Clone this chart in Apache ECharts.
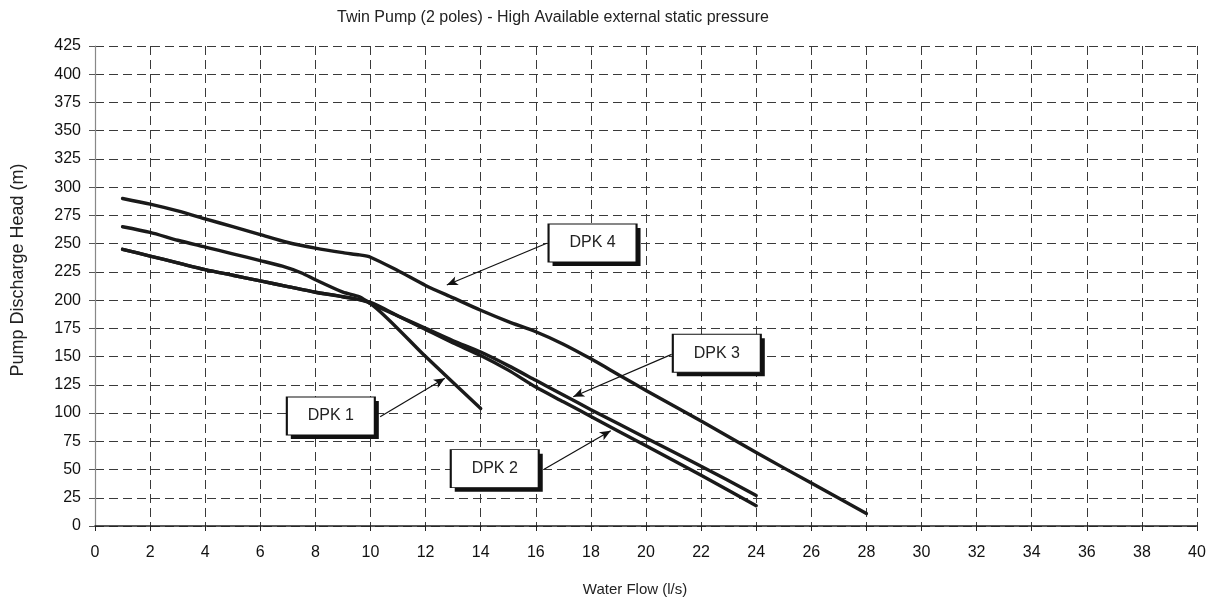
<!DOCTYPE html>
<html>
<head>
<meta charset="utf-8">
<script src="https://cdn.jsdelivr.net/npm/echarts@6/dist/echarts.min.js"></script>
<style>
html,body{margin:0;padding:0;background:#fff;}
#chart{width:1213px;height:605px;}
</style>
</head>
<body>
<div id="chart"></div>
<script>
// ---- Data ----
const seriesNames = ['DPK 1', 'DPK 2', 'DPK 3', 'DPK 4'];

const dpk1 = [[1,245],[2,239],[3,233],[4,227],[5,222],[6,217],[7,212],[8,207],[9,203],[10,197],[12,150],[14,104]];
const dpk2 = [[1,245],[2,239],[3,233],[4,227],[5,222],[6,217],[7,212],[8,207],[9,203],[10,198],[11,186],[12,174],[13,162],[14,151],[15,138],[16,123],[17,110],[18,97],[20,71],[22,45],[24,18]];
const dpk3 = [[1,265],[2,260],[3,253],[4,247],[5,241],[6,235],[6.8,230],[7.5,224],[8,218],[9,207],[9.6,203],[10,197],[11,186],[12,175],[13,164],[14,154],[15,142],[16,129],[17,116],[18,103],[20,78],[22,53],[24,27]];
const dpk4 = [[1,290],[2,285],[3,279],[4,272],[5,265],[6,258],[7,251],[8,246],[9,242],[9.6,240],[10,238],[11,226],[12,213],[13,202],[14,191],[15,181],[16,172],[17,161],[18,148],[19,134],[20,120],[22,93],[24,65],[26,38],[28,11]];

const xTicks = [0,2,4,6,8,10,12,14,16,18,20,22,24,26,28,30,32,34,36,38,40];
const yTicks = [0,25,50,75,100,125,150,175,200,225,250,275,300,325,350,375,400,425];

// Callout annotations (data coordinates): box centre, arrow start, arrow tip
const calloutBox   = [[8.56,97.4],[14.51,50.8],[22.57,152.9],[18.06,250.5]];
const calloutFrom  = [[10.35,96.8],[16.3,50.2],[20.93,152],[16.4,250.3]];
const calloutTo    = [[12.7,130.8],[18.72,84.4],[17.36,114.5],[12.77,213.4]];

const titleText = 'Twin Pump (2 poles) - High Available external static pressure';
const yName = 'Pump Discharge Head (m)';
const xName = 'Water Flow (l/s)';

const allData = [dpk1, dpk2, dpk3, dpk4];

const chart = echarts.init(document.getElementById('chart'), null, {renderer:'canvas'});
const lineColor = '#1a1a1a';
const gridColor = '#3a3a3a';
const baseFont = '"Liberation Sans", Arial, sans-serif';
const narrowFont = '"Liberation Sans Narrow", "Liberation Sans", Arial, sans-serif';

const series = allData.map((d, i) => ({
  name: seriesNames[i],
  type: 'line',
  data: d,
  showSymbol: false,
  symbol: 'none',
  smooth: 0.25,
  z: 3,
  lineStyle: {color: lineColor, width: 3.4, cap: 'round', join: 'round'},
  markPoint: {
    symbol: 'rect',
    symbolSize: [88, 38],
    z: 5,
    silent: true,
    data: [
      {coord: calloutBox[i], value: '', symbolOffset: [4, 4],
       itemStyle: {color: '#111', borderWidth: 0},
       label: {show: false}},
      {coord: calloutBox[i], value: seriesNames[i],
       itemStyle: {color: '#fff', borderColor: '#111', borderWidth: 1.4},
       label: {show: true, position: 'inside', formatter: seriesNames[i],
         color: '#222', fontSize: 16, fontFamily: narrowFont}}
    ]
  },
  markLine: {
    silent: true,
    symbol: ['none', 'arrow'],
    symbolSize: [7, 11],
    z: 4,
    label: {show: false},
    lineStyle: {color: '#111', width: 1.2, type: 'solid'},
    data: [[{coord: calloutFrom[i]}, {coord: calloutTo[i]}]]
  }
}));

chart.setOption({
  animation: false,
  backgroundColor: '#fff',
  title: {
    text: titleText,
    left: 332, top: 5,
    textStyle: {fontSize: 16, fontWeight: 'normal', color: '#222', fontFamily: baseFont}
  },
  graphic: [
    {type: 'text', x: 18, y: 270, rotation: Math.PI/2,
     style: {text: yName, fontSize: 18, fill: '#222', align: 'center', verticalAlign: 'middle',
             fontFamily: baseFont}},
    {type: 'text', x: 635, y: 590,
     style: {text: xName, fontSize: 15, fill: '#222', align: 'center', verticalAlign: 'middle',
             fontFamily: narrowFont}}
  ],
  grid: {left: 95, right: 16, top: 46, bottom: 79, containLabel: false},
  xAxis: {
    type: 'value', min: xTicks[0], max: xTicks[xTicks.length-1], interval: 2,
    axisLine: {show: true, onZero: false, lineStyle: {color: '#222', width: 1.5}},
    axisTick: {show: true, length: 5, lineStyle: {color: '#222'}},
    axisLabel: {color: '#111', fontSize: 16, margin: 19, fontFamily: baseFont},
    splitLine: {show: true, lineStyle: {color: gridColor, type: [9, 5], width: 1}}
  },
  yAxis: {
    type: 'value', min: yTicks[0], max: yTicks[yTicks.length-1], interval: 25,
    axisLine: {show: true, lineStyle: {color: '#888', width: 1.2}},
    axisTick: {show: true, length: 6, lineStyle: {color: '#555'}},
    axisLabel: {color: '#111', fontSize: 16, margin: 14, fontFamily: baseFont},
    splitLine: {show: true, lineStyle: {color: gridColor, type: [9, 5], width: 1}}
  },
  series: series
});
</script>
</body>
</html>
